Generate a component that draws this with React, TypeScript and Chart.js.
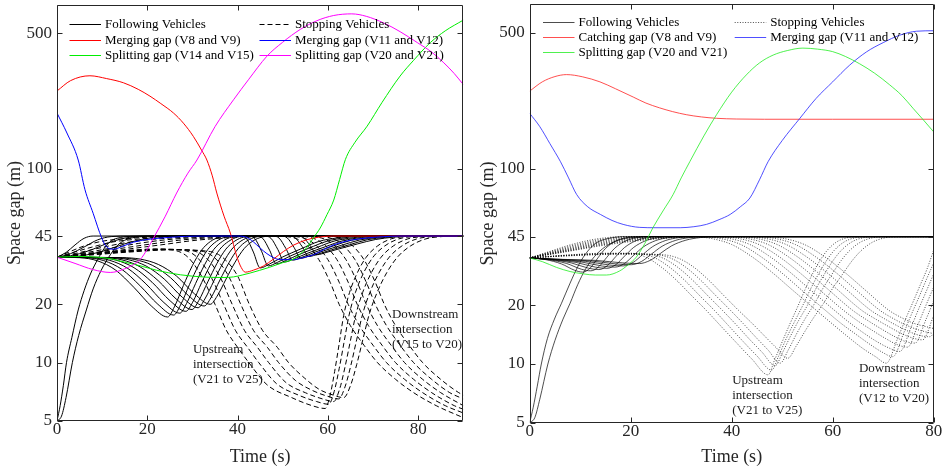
import { useEffect, useRef } from 'react';
import { Chart, registerables } from 'chart.js';

Chart.register(...registerables);

type Pt = [number, number];

// ---------- shared axis values ----------
const yTicks = [5, 10, 20, 45, 100, 500];
const yMin = 5;
const yMax = 700;
const xTicksLeft = [0, 20, 40, 60, 80];
const xTicksRight = [0, 20, 40, 60, 80];
const xMaxLeft = 90;
const xMaxRight = 80;

// ---------- left panel: gap series (time s, gap m) ----------
const leftMergeV8V9: Pt[] = [[0,252],[3,285],[7.3,302],[11,292],[14.7,278],[18,257],[20.6,237],[23,217],[25.8,194],[28,172],[30.2,147],[32,125],[33.2,111],[34.4,92],[35.4,75],[37,57],[38.4,46.6],[39.8,35.5],[40.8,31],[41.7,29.3],[43.5,30],[45.7,31.5],[48,34.3],[50.2,37.5],[52.5,40.5],[55.4,43.1],[58,44.4],[61,45],[90,45]];
const leftMergeV11V12: Pt[] = [[0,194],[2.2,153],[4.7,111],[6.2,78],[8,59],[9.9,44],[11,39.5],[12.5,38.5],[14.5,39.8],[16.9,41.8],[20,43.2],[22.8,43.9],[28.5,44.8],[34,45],[40,45],[42,44.3],[43.5,42],[45,39],[46.5,36.5],[48,34.8],[49.4,34],[52.5,34],[54.5,34.8],[56.8,36],[59,38.2],[61.3,40.5],[65,42.8],[68.7,44],[72,44.6],[76,45],[90,45]];
const leftSplitV14V15: Pt[] = [[0,35],[5,35.3],[9,35],[11.8,34.4],[15,33],[18.4,31.6],[22,30],[27.3,28.4],[33.2,27.6],[37,27.5],[39.1,27.7],[41,28.3],[42.8,29],[47,31],[50,32.8],[52.5,34.3],[54,36.5],[55.4,39.4],[56.8,44],[58.3,49.5],[59.8,58],[61.3,69],[62.6,88],[63.9,112],[66,137],[68.7,166],[72,220],[76,301],[79,363],[82.7,448],[86,515],[90,585]];
const leftSplitV20V21: Pt[] = [[0,35],[4,32.5],[8,30.2],[11.8,29.2],[15,30.5],[18.4,34],[20,38.5],[21.4,44],[24,57],[26.5,75],[29,95],[31,111],[35,165],[39.1,227],[42.5,290],[46.5,381],[50,450],[53.9,524],[57.5,580],[61.3,618],[65.3,630],[68.5,612],[72.4,565],[76,510],[79.8,448],[83,400],[85.7,352],[88,310],[90,272]];

// following vehicles that start from a 5 m gap
const leftFollowFromStandstill: Pt[][] = [
  [[0,5],[0.7,6],[1.4,7.6],[2.1,10],[3.3,13.5],[4.7,18.7],[6,23.5],[7.5,29],[9,34],[10.5,39],[12,42.5],[14,44.2],[17,44.9],[20,45],[90,45]],
  [[0,5],[1,5.3],[2,6.6],[3.4,10],[4.8,13.8],[6.5,18.7],[8,24],[9.8,30],[11.8,36],[13.5,40.5],[15.5,43.3],[18,44.5],[22,45],[90,45]],
];
// following vehicles closing up to the 45 m gap early
const leftFollowEarly: Pt[][] = [
  [[0,35],[2,37],[4,40.5],[6,43.8],[8,45],[90,45]],
  [[0,35],[3,36.5],[6,39.5],[9,43],[12,44.7],[16,45],[90,45]],
  [[0,35],[4,36],[8,38.5],[12,42],[16,44.3],[20,45],[90,45]],
  [[0,35],[5,35.5],[10,37.5],[15,41],[20,43.8],[26,45],[90,45]],
];
// following vehicles disturbed by the merging / splitting manoeuvres
const leftFollowDisturbed: Pt[][] = [
  [[0,35],[5,34.8],[9,33.5],[13,30],[17,24.5],[21,19.5],[24.5,17.2],[26,19.4],[28,25],[30,31.7],[32,38],[34,42.2],[36,44.4],[38,45],[40.5,45],[42,43.6],[43.5,37.2],[45,30.8],[47,32.2],[50,35.1],[54,38.6],[58,42.2],[62,44],[66,45],[90,45]],
  [[0,35],[6.35,34.8],[10.35,33.6],[14.35,30.3],[18.35,25],[22.35,20],[25.85,17.6],[27.35,19.8],[29.35,25.3],[31.35,31.8],[33.35,38.2],[35.35,42.3],[37.35,44.5],[39.35,45],[42.3,45],[43.8,43.7],[45.3,37.6],[46.8,31.55],[48.8,32.9],[51.8,35.6],[55.8,38.95],[59.8,42.3],[63.8,44.1],[67.8,45],[90,45]],
  [[0,35],[7.7,34.8],[11.7,33.7],[15.7,30.6],[19.7,25.5],[23.7,20.4],[27.2,18],[28.7,20.2],[30.7,25.6],[32.7,32],[34.7,38.3],[36.7,42.3],[38.7,44.5],[40.7,45],[44.1,45],[45.6,43.7],[47.1,38],[48.6,32.3],[50.6,33.6],[53.6,36.1],[57.6,39.3],[61.6,42.5],[65.6,44.1],[69.6,45],[90,45]],
  [[0,35],[9.05,34.8],[13.05,33.8],[17.05,30.9],[21.05,26],[25.05,20.85],[28.55,18.4],[30.05,20.5],[32.05,25.9],[34.05,32.2],[36.05,38.4],[38.05,42.3],[40.05,44.5],[42.05,45],[45.9,45],[47.4,43.8],[48.9,38.4],[50.4,33.05],[52.4,34.25],[55.4,36.6],[59.4,39.6],[63.4,42.6],[67.4,44.2],[71.4,45],[90,45]],
  [[0,35],[10.4,34.8],[14.4,33.9],[18.4,31.2],[22.4,26.5],[26.4,21.3],[29.9,18.8],[31.4,20.9],[33.4,26.1],[35.4,32.4],[37.4,38.5],[39.4,42.4],[41.4,44.5],[43.4,45],[47.7,45],[49.2,43.9],[50.7,38.8],[52.2,33.8],[54.2,34.9],[57.2,37.2],[61.2,40],[65.2,42.8],[69.2,44.2],[73.2,45],[90,45]],
  [[0,35],[11.75,34.8],[15.75,34],[19.75,31.5],[23.75,27],[27.75,21.75],[31.25,19.2],[32.75,21.3],[34.75,26.4],[36.75,32.6],[38.75,38.55],[40.75,42.4],[42.75,44.5],[44.75,45],[49.5,45],[51,44],[52.5,39.3],[54,34.55],[56,35.6],[59,37.7],[63,40.3],[67,42.9],[71,44.3],[75,45],[90,45]],
  [[0,35],[13.1,34.8],[17.1,34.1],[21.1,31.8],[25.1,27.5],[29.1,22.2],[32.6,19.6],[34.1,21.6],[36.1,26.7],[38.1,32.8],[40.1,38.65],[42.1,42.5],[44.1,44.5],[46.1,45],[51.3,45],[52.8,44],[54.3,39.7],[55.8,35.3],[57.8,36.3],[60.8,38.2],[64.8,40.6],[68.8,43.1],[72.8,44.3],[76.8,45],[90,45]],
  [[0,35],[14.45,34.8],[18.45,34.2],[22.45,32.1],[26.45,28],[30.45,22.65],[33.95,20],[35.45,22],[37.45,27],[39.45,33],[41.45,38.75],[43.45,42.5],[45.45,44.5],[47.45,45],[53.1,45],[54.6,44.1],[56.1,40.1],[57.6,36.05],[59.6,37],[62.6,38.7],[66.6,41],[70.6,43.2],[74.6,44.4],[78.6,45],[90,45]],
];
// stopping vehicles at the upstream intersection (V21 to V25)
const leftStopUpstream: Pt[][] = [
  [[0,35],[8,36.8],[16,38],[22,38.6],[26,38],[29,35],[32,28],[35,20],[37.5,14.7],[40,12],[42.5,10],[46.5,7.7],[52,6.6],[56.5,6],[59.4,5.8],[60.5,6.8],[61.5,9],[62.5,12.5],[63.5,17.5],[64.8,23],[66.5,29],[68.5,35],[71,40],[74,43.5],[77,44.7],[80,45],[90,45]],
  [[0,35],[8,36.6],[16,37.8],[23,38.5],[28,38],[31,35],[34,28],[36.9,20],[39.5,14.7],[42.2,12],[44.7,10],[48.6,7.8],[53.5,6.8],[57.5,6.3],[60.2,6.1],[61.4,7.1],[62.5,9.3],[63.6,12.8],[64.7,17.6],[66.1,23],[67.9,29],[70,35],[72.6,40],[75.7,43.5],[78.8,44.7],[82,45],[90,45]],
  [[0,35],[8,36.4],[16,37.6],[24,38.4],[30,37.8],[33,34.8],[36,28],[38.8,20],[41.5,14.7],[44.4,12],[46.9,10],[50.7,7.9],[55,7],[58.8,6.5],[61.3,6.3],[62.6,7.3],[63.8,9.5],[65,13],[66.2,17.7],[67.7,23],[69.6,29],[71.8,35],[74.5,40],[77.7,43.5],[81,44.7],[84.5,45],[90,45]],
  [[0,35],[8,36.2],[16,37.4],[25,38.3],[32,37.6],[35,34.6],[38,28],[40.7,20],[43.5,14.7],[46.6,12],[49.1,10],[52.8,8.1],[56.5,7.2],[60,6.7],[62.4,6.5],[63.8,7.5],[65.1,9.7],[66.4,13.2],[67.7,17.8],[69.3,23],[71.3,29],[73.6,35],[76.4,40],[79.7,43.5],[83.1,44.7],[86.8,45],[90,45]],
  [[0,35],[8,36],[16,37.2],[26,38.2],[34,37.4],[37,34.4],[40,28],[42.6,20],[45.5,14.7],[48.8,12],[51.3,10],[54.9,8.3],[58,7.3],[61.2,6.8],[63.5,6.6],[65,7.6],[66.4,9.8],[67.8,13.3],[69.2,17.9],[70.9,23],[73,29],[75.4,35],[78.3,40],[81.7,43.5],[85.2,44.7],[89,45],[90,45]],
];
// stopping vehicles at the downstream intersection (V15 to V20)
const leftStopDownstream: Pt[][] = [
  [[0,35],[3,37.5],[6,40],[10,42.3],[15,43.6],[22,44.5],[30,45],[48,45],[52,44.3],[55,41],[58,34],[60.5,26],[62.5,20],[65,15.5],[68,12.3],[71,10],[75,8.2],[79,7],[84,6],[90,5.2]],
  [[0,35],[4,37.3],[8,39.6],[12,41.8],[18,43.4],[25,44.4],[33,45],[50,45],[54,44.3],[57,41],[60,34],[62.5,26],[64.5,20],[67,15.5],[70,12.3],[73,10],[77,8.2],[81,7],[86,6],[90,5.5]],
  [[0,35],[5,37],[10,39.3],[15,41.5],[21,43.2],[28,44.3],[36,45],[52,45],[56,44.3],[59,41],[62,34],[64.5,26],[66.5,20],[69,15.5],[72,12.3],[75,10],[79,8.2],[83,7],[88,6],[90,5.75]],
  [[0,35],[6,36.8],[12,39],[18,41.2],[24,43],[31,44.2],[39,45],[54,45],[58,44.3],[61,41],[64,34],[66.5,26],[68.5,20],[71,15.5],[74,12.3],[77,10],[81,8.2],[85,7],[90,6]],
  [[0,35],[7,36.6],[14,38.8],[21,41],[27,42.8],[34,44.1],[42,45],[56,45],[60,44.3],[63,41],[66,34],[68.5,26],[70.5,20],[73,15.5],[76,12.3],[79,10],[83,8.2],[87,7],[90,6.5]],
  [[0,35],[8,36.4],[16,38.6],[24,40.8],[30,42.6],[37,44],[45,45],[58,45],[62,44.3],[65,41],[68,34],[70.5,26],[72.5,20],[75,15.5],[78,12.3],[81,10],[85,8.2],[89,7],[90,6.8]],
];

// ---------- right panel ----------
const rightCatchV8V9: Pt[] = [[0,251],[2.5,280],[5,298],[7.3,305],[10.5,297],[13.9,280],[17,258],[20.5,234],[23,218],[25.7,206],[28.3,197],[31,190],[34,185],[37,182],[41,180.5],[46.5,180],[60,180],[80,180]];
const rightMergeV11V12: Pt[] = [[0,193],[2,165],[4,135],[6.1,109],[7.7,90],[9.3,74],[11.5,64],[14,58.5],[16.3,54.5],[18.5,52],[21.8,50.2],[25,50],[29.8,50],[32.5,50.6],[35,52],[37.5,55],[39.7,58.5],[41.7,64],[43.6,71],[45.5,88],[47.2,109],[50,140],[53.5,182],[56.7,230],[60,280],[63.3,340],[66.7,399],[70,445],[73.3,486],[76.6,509],[80,512]];
const rightSplitV20V21: Pt[] = [[0,35],[2.5,33.5],[5.3,31.3],[8,29.8],[10.6,29],[13,28.6],[15.2,28.6],[17.8,30],[19.5,32.3],[21.1,35.3],[22.8,41.5],[24.4,50],[26.4,61],[28.4,74],[30,90],[31.7,109],[34.5,148],[37,190],[40,248],[42.9,304],[45.5,350],[48.2,384],[51,405],[54.1,417],[57,412],[60,400],[62.5,378],[65.3,347],[68.3,310],[71.3,270],[73.7,238],[75.9,205],[78,178],[80,155]];

const rightFollowFromStandstill: Pt[][] = [
  [[0,5],[0.7,6],[1.5,7.7],[2.3,10],[3.5,13.5],[4.9,17],[6.3,20.5],[8,26],[9.5,31.5],[11,36.5],[13,41.5],[15.5,44],[19,45],[80,45]],
  [[0,5],[1,5.3],[2,6.6],[3.6,10],[5,13.2],[6.6,17],[8,20.5],[9.5,25.5],[11,30.5],[12.8,35.5],[15,40],[18,43.5],[22,44.8],[26,45],[80,45]],
];
const rightFollowDisturbed: Pt[][] = [
  [[0,35],[3.15,34.3],[6.3,32.6],[8.9,30.25],[10.5,29.6],[12,31.1],[13.5,35],[15,39.1],[17,42.7],[19,44.4],[21.5,45],[80,45]],
  [[0,35],[3.63,34.3],[7.26,32.8],[10.29,30.6],[12.1,30.05],[13.69,31.55],[15.28,35.28],[16.87,39.32],[18.99,42.76],[21.11,44.4],[23.76,45],[80,45]],
  [[0,35],[4.11,34.3],[8.22,33],[11.65,31],[13.7,30.5],[15.38,31.95],[17.06,35.58],[18.74,39.49],[20.98,42.83],[23.22,44.42],[26.02,45],[80,45]],
  [[0,35],[4.59,34.3],[9.18,33.2],[13,31.4],[15.3,30.95],[17.07,32.36],[18.84,35.87],[20.61,39.66],[22.97,42.89],[25.33,44.44],[28.28,45],[80,45]],
  [[0,35],[5.07,34.3],[10.14,33.4],[14.37,31.8],[16.9,31.4],[18.76,32.76],[20.62,36.16],[22.48,39.83],[24.96,42.96],[27.44,44.46],[30.54,45],[80,45]],
  [[0,35],[5.55,34.3],[11.1,33.6],[15.73,32.2],[18.5,31.85],[20.45,33.17],[22.4,36.45],[24.35,40],[26.95,43.03],[29.55,44.47],[32.8,45],[80,45]],
  [[0,35],[6.03,34.4],[12.06,33.8],[17.09,32.6],[20.1,32.3],[22.14,33.57],[24.18,36.75],[26.22,40.17],[28.94,43.1],[31.66,44.49],[35.06,45],[80,45]],
  [[0,35],[6.51,34.4],[13.02,34],[18.45,33],[21.7,32.75],[23.83,33.98],[25.96,37.04],[28.09,40.35],[30.93,43.16],[33.77,44.51],[37.32,45],[80,45]],
];
// stopping vehicles, upstream intersection (V21 to V25)
const rightStopUpstream: Pt[][] = [
  [[0,35],[8,36.3],[15,37],[20,37],[23,35.3],[26,31.5],[29,27],[32,22.5],[35,18.8],[38,15.5],[41,12.8],[44,10.6],[47.2,8.8],[48.5,10.5],[50,13],[51.5,16],[53,19.5],[54.5,24],[56,29],[57.5,34],[59,38.5],[60.8,42.3],[62.8,44.4],[65,45],[80,45]],
  [[0,35],[8,36.2],[16,36.9],[21.5,36.8],[24.6,35.2],[27.6,31.5],[30.6,27],[33.6,22.5],[36.6,18.8],[39.4,15.7],[42.2,13.1],[45,11],[47.9,9.3],[49.3,11],[50.8,13.5],[52.4,16.4],[54,19.8],[55.6,24.2],[57.2,29],[58.8,34],[60.4,38.5],[62.3,42.3],[64.4,44.4],[66.8,45],[80,45]],
  [[0,35],[8,36.1],[17,36.8],[23,36.6],[26.2,35.1],[29.2,31.5],[32.2,27],[35.2,22.5],[38.2,18.8],[40.8,16],[43.4,13.5],[46,11.5],[48.6,9.8],[50.1,11.5],[51.7,14],[53.3,16.8],[55,20],[56.7,24.4],[58.4,29],[60.1,34],[61.8,38.5],[63.8,42.3],[66,44.4],[68.5,45],[80,45]],
  [[0,35],[8,36],[18,36.7],[24.5,36.5],[27.8,35],[30.8,31.5],[33.8,27],[36.8,22.5],[39.8,18.8],[42.3,16.1],[44.8,13.7],[47.2,11.8],[49.6,10.1],[51.2,11.8],[52.8,14.2],[54.5,17],[56.3,20.2],[58.1,24.5],[59.9,29],[61.7,34],[63.5,38.5],[65.6,42.3],[67.9,44.4],[70.5,45],[80,45]],
  [[0,35],[8,35.9],[19,36.6],[26,36.4],[29.4,34.9],[32.4,31.5],[35.4,27],[38.4,22.5],[41.4,18.8],[43.9,16.3],[46.3,14.1],[48.7,12.2],[51.1,10.7],[52.8,12.4],[54.5,14.7],[56.3,17.4],[58.2,20.5],[60.1,24.7],[62,29],[63.9,34],[65.8,38.5],[68,42.3],[70.4,44.4],[73,45],[80,45]],
];
// stopping vehicles, downstream intersection (V12 to V20)
const rightStopDownstream: Pt[][] = [
  [[0,35],[4,37.8],[8,40.8],[12,43.2],[15,44.4],[18,45],[32,45],[36,44],[40,41],[44,35.5],[48,29.5],[52,24],[56.8,18.8],[60,16],[63,13.8],[66,12],[68.5,10.9],[70.6,10.1],[72.8,13.4],[74.3,16.7],[75.8,20.5],[77.3,25.3],[78.7,30.8],[80,38.4]],
  [[0,35],[4.4,37.8],[8.9,40.8],[13.3,43.2],[16.7,44.4],[20,45],[33.8,45],[37.8,44],[41.8,41],[45.8,35.5],[49.8,29.5],[53.8,24],[58.6,18.8],[61.6,16.2],[64.6,14.2],[67.4,12.6],[69.8,11.5],[71.9,10.9],[74.1,14.5],[75.6,18],[77.1,22.1],[78.6,27.3],[80,33]],
  [[0,35],[4.9,37.8],[9.8,40.8],[14.7,43.2],[18.3,44.4],[22,45],[35.6,45],[39.6,44],[43.6,41],[47.6,35.5],[51.6,29.5],[55.6,24],[60.4,18.8],[63.2,16.4],[66,14.5],[68.8,13],[71.1,12.1],[73.3,11.6],[75.5,15.4],[77,19.1],[78.5,23.5],[80,29]],
  [[0,35],[5.3,37.8],[10.7,40.8],[16,43.2],[20,44.4],[24,45],[37.4,45],[41.4,44],[45.4,41],[49.4,35.5],[53.4,29.5],[57.4,24],[62.2,18.8],[65,16.6],[67.8,14.9],[70.5,13.5],[72.7,12.6],[74.8,12.2],[77,16.2],[78.5,20.1],[80,24.8]],
  [[0,35],[5.8,37.8],[11.6,40.8],[17.3,43.2],[21.7,44.4],[26,45],[39.2,45],[43.2,44],[47.2,41],[51.2,35.5],[55.2,29.5],[59.2,24],[64,18.8],[66.8,16.8],[69.5,15.2],[72.1,13.9],[74.2,13.1],[76.3,12.8],[78.5,17],[80,21.1]],
  [[0,35],[6.2,37.8],[12.4,40.8],[18.7,43.2],[23.3,44.4],[28,45],[41,45],[45,44],[49,41],[53,35.5],[57,29.5],[61,24],[65.8,18.8],[68.5,17],[71.2,15.5],[73.7,14.3],[75.8,13.6],[77.8,13.3],[80,17.7]],
  [[0,35],[6.7,37.8],[13.3,40.8],[20,43.2],[25,44.4],[30,45],[42.8,45],[46.8,44],[50.8,41],[54.8,35.5],[58.8,29.5],[62.8,24],[67.6,18.8],[70.2,17.1],[72.8,15.7],[75.3,14.6],[77.3,14],[79.2,13.8],[80,14.3]],
  [[0,35],[7.1,37.8],[14.2,40.8],[21.3,43.2],[26.7,44.4],[32,45],[44.6,45],[48.6,44],[52.6,41],[56.6,35.5],[60.6,29.5],[64.6,24],[69.4,18.8],[72,17.1],[74.6,15.8],[77.2,14.9],[80,14.3]],
  [[0,35],[7.6,37.8],[15.1,40.8],[22.7,43.2],[28.3,44.4],[34,45],[46.4,45],[50.4,44],[54.4,41],[58.4,35.5],[62.4,29.5],[66.4,24],[71.2,18.8],[73.6,17.3],[76,16.2],[80,15.2]],
];

// ---------- styling ----------
const FONT = "'Liberation Serif', 'Times New Roman', serif";
const AXIS_COLOR = '#262626';
const DASH = [5, 3];
const DOT = [1, 1.6];

interface LegendEntry { label: string; color: string; dash: number[]; width: number }
interface Note { t: number; v: number; lines: string[] }
interface PanelSpec {
  xMax: number;
  xTicks: number[];
  padding: { left: number; right: number; top: number; bottom: number };
  yAxisWidth: number;
  xAxisHeight: number;
  datasets: any[];
  legendCols: number[]; // x offset of each legend column from plot left
  legendRows: number[]; // y offset of each legend row from plot top
  legend: LegendEntry[][]; // per column
  notes: Note[];
}

const line = (pts: Pt[], color: string, width: number, dash: number[] = []) => ({
  data: pts.map(([x, y]) => ({ x, y })),
  borderColor: color,
  borderWidth: width,
  borderDash: dash,
  pointRadius: 0,
  fill: false,
  tension: 0,
  cubicInterpolationMode: 'monotone' as const,
});

const leftSpec: PanelSpec = {
  xMax: xMaxLeft,
  xTicks: xTicksLeft,
  padding: { left: 0, right: 9.7, top: 5, bottom: 0 },
  yAxisWidth: 57,
  xAxisHeight: 52,
  datasets: [
    line(leftSplitV20V21, '#ff00ff', 1),
    line(leftSplitV14V15, '#00ee00', 1),
    line(leftMergeV11V12, '#0000ff', 1),
    line(leftMergeV8V9, '#ff0000', 1),
    ...leftFollowFromStandstill.map((c) => line(c, '#000', 1)),
    ...leftFollowEarly.map((c) => line(c, '#000', 1)),
    ...leftFollowDisturbed.map((c) => line(c, '#000', 1)),
    ...leftStopUpstream.map((c) => line(c, '#000', 1, DASH)),
    ...leftStopDownstream.map((c) => line(c, '#000', 1, DASH)),
  ],
  legendCols: [12.5, 202.5],
  legendRows: [19, 34.5, 50],
  legend: [
    [
      { label: 'Following Vehicles', color: '#000', dash: [], width: 1 },
      { label: 'Merging gap (V8 and V9)', color: '#ff0000', dash: [], width: 1 },
      { label: 'Splitting gap (V14 and V15)', color: '#00ee00', dash: [], width: 1 },
    ],
    [
      { label: 'Stopping Vehicles', color: '#000', dash: DASH, width: 1 },
      { label: 'Merging gap (V11 and V12)', color: '#0000ff', dash: [], width: 1 },
      { label: 'Splitting gap (V20 and V21)', color: '#ff00ff', dash: [], width: 1 },
    ],
  ],
  notes: [
    { t: 30.1, v: 11.7, lines: ['Upstream', 'intersection', '(V21 to V25)'] },
    { t: 74.2, v: 17.7, lines: ['Downstream', 'intersection', '(V15 to V20)'] },
  ],
};

const rightSpec: PanelSpec = {
  xMax: xMaxRight,
  xTicks: xTicksRight,
  padding: { left: 0, right: 12.3, top: 4, bottom: 0 },
  yAxisWidth: 56.7,
  xAxisHeight: 50.3,
  datasets: [
    line(rightSplitV20V21, '#22ee22', 0.8),
    line(rightMergeV11V12, '#2222ff', 0.8),
    line(rightCatchV8V9, '#ff2222', 0.8),
    ...rightFollowFromStandstill.map((c) => line(c, '#000', 0.7)),
    ...rightFollowDisturbed.map((c) => line(c, '#000', 0.7)),
    ...rightStopUpstream.map((c) => line(c, '#000', 0.7, DOT)),
    ...rightStopDownstream.map((c) => line(c, '#000', 0.7, DOT)),
  ],
  legendCols: [13.3, 205],
  legendRows: [17.7, 32.7, 47.7],
  legend: [
    [
      { label: 'Following Vehicles', color: '#000', dash: [], width: 0.7 },
      { label: 'Catching gap (V8 and V9)', color: '#ff2222', dash: [], width: 0.8 },
      { label: 'Splitting gap (V20 and V21)', color: '#22ee22', dash: [], width: 0.8 },
    ],
    [
      { label: 'Stopping Vehicles', color: '#000', dash: DOT, width: 0.7 },
      { label: 'Merging gap (V11 and V12)', color: '#2222ff', dash: [], width: 0.8 },
    ],
  ],
  notes: [
    { t: 40.1, v: 8.26, lines: ['Upstream', 'intersection', '(V21 to V25)'] },
    { t: 65.2, v: 9.48, lines: ['Downstream', 'intersection', '(V12 to V20)'] },
  ],
};

// frame with inward ticks on all four sides, in-plot legend and text notes
function decorPlugin(spec: PanelSpec) {
  return {
    id: 'panelDecor',
    afterDraw(chart: any) {
      const { ctx, chartArea: a } = chart;
      const xs = chart.scales.x;
      const ys = chart.scales.y;
      const L = Math.round(a.left) + 0.5;
      const R = Math.round(a.right) - 0.5;
      const T = Math.round(a.top) + 0.5;
      const B = Math.round(a.bottom) - 0.5;
      ctx.save();
      ctx.setLineDash([]);
      ctx.lineWidth = 1;
      ctx.strokeStyle = AXIS_COLOR;
      ctx.beginPath();
      ctx.moveTo(L, T); ctx.lineTo(R, T); ctx.lineTo(R, B); ctx.lineTo(L, B); ctx.closePath();
      const tl = 5;
      spec.xTicks.forEach((v) => {
        const px = Math.round(xs.getPixelForValue(v)) + 0.5;
        ctx.moveTo(px, B); ctx.lineTo(px, B - tl);
        ctx.moveTo(px, T); ctx.lineTo(px, T + tl);
      });
      yTicks.forEach((v) => {
        const py = Math.round(ys.getPixelForValue(v)) + 0.5;
        ctx.moveTo(L, py); ctx.lineTo(L + tl, py);
        ctx.moveTo(R, py); ctx.lineTo(R - tl, py);
      });
      ctx.stroke();

      // legend
      ctx.font = `13px ${FONT}`;
      ctx.textBaseline = 'middle';
      ctx.textAlign = 'left';
      spec.legend.forEach((col, ci) => {
        const x0 = a.left + spec.legendCols[ci];
        col.forEach((item, ri) => {
          const y = Math.round(a.top + spec.legendRows[ri]) + 0.5;
          ctx.beginPath();
          ctx.setLineDash(item.dash);
          ctx.strokeStyle = item.color;
          ctx.lineWidth = item.width;
          ctx.moveTo(x0, y);
          ctx.lineTo(x0 + 31.5, y);
          ctx.stroke();
          ctx.setLineDash([]);
          ctx.fillStyle = '#000';
          ctx.fillText(item.label, x0 + 35.5, y);
        });
      });

      // notes
      ctx.fillStyle = '#1a1a1a';
      spec.notes.forEach((n) => {
        const x = xs.getPixelForValue(n.t);
        const y = ys.getPixelForValue(n.v);
        n.lines.forEach((s, i) => ctx.fillText(s, x, y + i * 15));
      });
      ctx.restore();
    },
  };
}

function buildConfig(spec: PanelSpec): any {
  const titleFont = { family: FONT, size: 18, lineHeight: 1.2 };
  return {
    type: 'line',
    data: { datasets: spec.datasets },
    options: {
      responsive: false,
      maintainAspectRatio: false,
      animation: false,
      devicePixelRatio: 1,
      events: [],
      layout: { padding: spec.padding },
      plugins: { legend: { display: false }, tooltip: { enabled: false } },
      scales: {
        x: {
          type: 'linear',
          min: 0,
          max: spec.xMax,
          bounds: 'data',
          afterBuildTicks: (s: any) => { s.ticks = spec.xTicks.map((value) => ({ value })); },
          afterFit: (s: any) => { s.height = spec.xAxisHeight; },
          grid: { display: false, drawTicks: false, tickLength: 0 },
          border: { display: false },
          ticks: { padding: 0, color: AXIS_COLOR, font: { family: FONT, size: 17, lineHeight: 1 }, maxRotation: 0, autoSkip: false, callback: (v: any) => String(v) },
          title: { display: true, text: 'Time (s)', color: AXIS_COLOR, font: titleFont, padding: { top: 0, bottom: 5.2 } },
        },
        y: {
          type: 'logarithmic',
          min: yMin,
          max: yMax,
          bounds: 'data',
          afterBuildTicks: (s: any) => { s.ticks = yTicks.map((value) => ({ value })); },
          afterFit: (s: any) => { s.width = spec.yAxisWidth; },
          grid: { display: false, drawTicks: true, tickLength: 5 },
          border: { display: false },
          ticks: { padding: 0, color: AXIS_COLOR, font: { family: FONT, size: 17, lineHeight: 0.5 }, autoSkip: false, callback: (v: any) => String(v) },
          title: { display: true, text: 'Space gap (m)', color: AXIS_COLOR, font: titleFont, padding: { top: 4.2, bottom: 0 } },
        },
      },
    },
    plugins: [decorPlugin(spec)],
  };
}

function Panel({ spec, left }: { spec: PanelSpec; left: number }) {
  const ref = useRef<HTMLCanvasElement>(null);
  useEffect(() => {
    if (!ref.current) return;
    const chart = new Chart(ref.current, buildConfig(spec));
    return () => chart.destroy();
  }, [spec]);
  return (
    <canvas
      ref={ref}
      width={473}
      height={473}
      style={{ position: 'absolute', left, top: 0, width: 473, height: 473 }}
    />
  );
}

export default function App() {
  return (
    <div style={{ position: 'absolute', left: 0, top: 0, width: 946, height: 473, background: '#fff' }}>
      <Panel spec={leftSpec} left={0} />
      <Panel spec={rightSpec} left={473} />
    </div>
  );
}
